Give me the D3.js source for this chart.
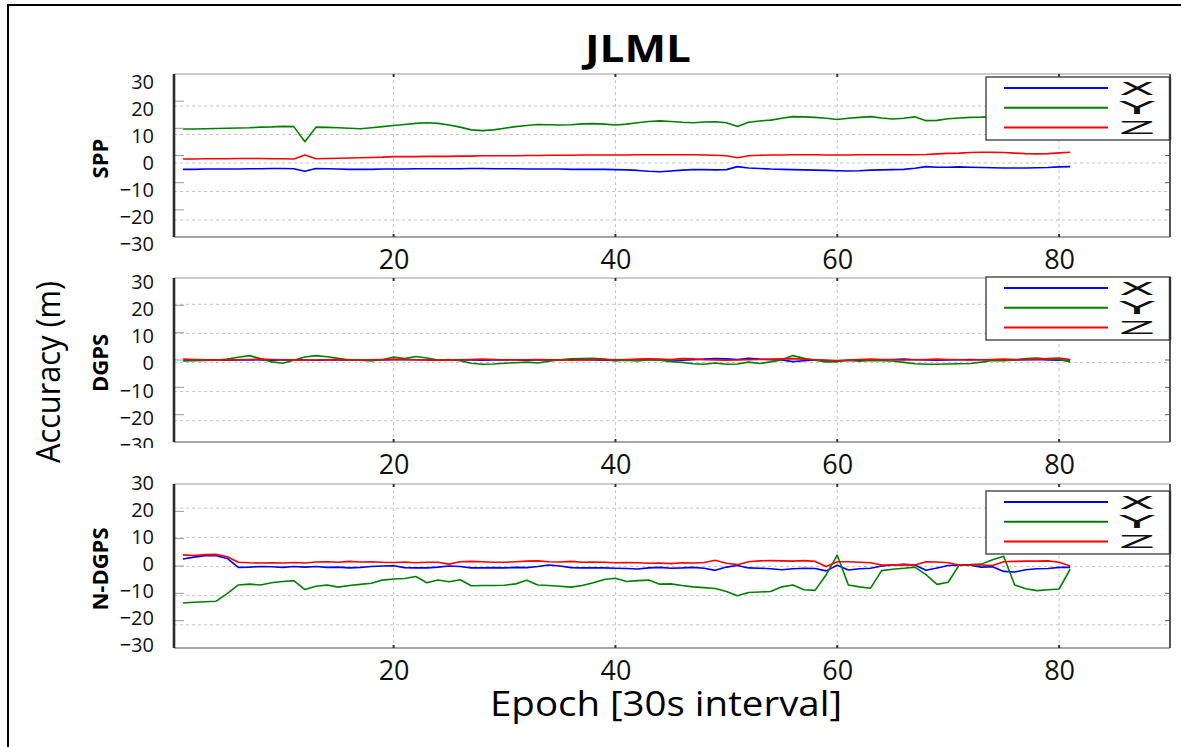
<!DOCTYPE html>
<html>
<head>
<meta charset="utf-8">
<script src="https://cdn.jsdelivr.net/npm/d3@7"></script>
<style>
  body { margin: 0; background: #fff; }
  text { font-family: "Open Sans", "DejaVu Sans", sans-serif; }
</style>
</head>
<body>
<div id="chart"></div>
<script>
// epochs 1..81 (30 s interval)
const epochs = d3.range(1, 82);
const seriesNames = ["X", "Y", "Z"];
const seriesColors = ["#0000ff", "#008000", "#ff0000"];
const yTicks = [-30, -20, -10, 0, 10, 20, 30];
const gridTicks = [-20, -10, 0, 10, 20];
const xTicks = [20, 40, 60, 80];

// SPP
const sppX = [-2.4,-2.4,-2.3,-2.3,-2.3,-2.3,-2.2,-2.2,-2.1,-2.1,-2.2,-3.1,-2.1,-2.2,-2.3,-2.4,-2.4,-2.4,-2.3,-2.3,
  -2.3,-2.2,-2.2,-2.2,-2.2,-2.2,-2.1,-2.1,-2.2,-2.2,-2.2,-2.3,-2.3,-2.3,-2.3,-2.4,-2.4,-2.4,-2.4,-2.5,
  -2.6,-2.8,-3.1,-3.3,-3.0,-2.7,-2.5,-2.5,-2.6,-2.5,-1.4,-1.9,-2.1,-2.3,-2.4,-2.5,-2.6,-2.7,-2.8,-2.9,
  -3.0,-2.9,-2.7,-2.6,-2.5,-2.4,-2.0,-1.4,-1.6,-1.6,-1.5,-1.6,-1.7,-1.8,-1.9,-1.9,-1.9,-1.8,-1.7,-1.5,-1.4];
const sppY = [12.5,12.5,12.6,12.7,12.8,12.9,13.0,13.2,13.3,13.5,13.4,7.8,13.2,13.1,13.0,12.8,12.6,13.0,13.4,13.8,
  14.2,14.6,14.8,14.6,14.0,13.2,12.2,11.9,12.2,12.8,13.4,13.8,14.2,14.1,14.0,14.1,14.4,14.5,14.3,14.0,
  14.3,14.8,15.3,15.5,15.3,15.0,14.8,15.1,15.2,14.8,13.4,15.0,15.5,15.8,16.5,17.1,17.0,16.8,16.5,16.0,
  16.5,16.8,17.1,16.6,16.2,16.5,17.0,15.6,15.7,16.3,16.6,16.8,16.9,17.1,17.3,17.5,17.6,17.8,18.0,18.1,18.3];
const sppZ = [1.4,1.4,1.5,1.5,1.5,1.6,1.6,1.6,1.5,1.5,1.4,2.9,1.5,1.6,1.7,1.8,1.9,2.0,2.1,2.3,
  2.3,2.3,2.4,2.4,2.4,2.5,2.5,2.6,2.6,2.6,2.6,2.7,2.7,2.8,2.8,2.8,2.9,2.9,2.9,2.9,
  2.9,3.0,3.0,3.0,3.0,3.0,3.0,2.9,2.8,2.6,1.9,2.6,2.8,2.9,2.9,3.0,3.0,3.0,2.9,2.9,
  2.9,3.0,3.0,3.0,3.0,3.0,3.0,3.1,3.3,3.5,3.6,3.8,3.9,3.9,3.8,3.6,3.4,3.3,3.4,3.7,3.9];

// DGPS
const dgpsX = [1.2,1.3,1.4,1.3,1.2,1.3,1.4,1.3,1.2,1.3,1.4,1.3,1.2,1.3,1.4,1.3,1.2,1.1,1.3,1.4,
  1.5,1.4,1.3,1.2,1.3,1.4,1.3,1.2,1.3,1.4,1.3,1.2,1.3,1.4,1.3,1.5,1.4,1.3,1.2,1.1,
  1.3,1.4,1.5,1.4,1.3,1.2,1.4,1.6,1.8,1.7,1.5,1.9,1.6,1.4,1.3,0.7,1.0,1.3,1.2,1.0,
  1.1,1.2,1.3,1.4,1.5,1.6,1.4,1.3,1.2,1.3,1.4,1.5,1.4,1.3,1.2,1.3,1.4,1.5,1.3,1.2,1.3];
const dgpsY = [0.9,1.0,1.1,1.3,1.6,2.3,2.9,1.8,0.6,0.1,1.2,2.4,2.9,2.5,1.9,1.3,1.2,1.0,1.4,2.4,
  1.8,2.6,2.0,1.3,1.5,1.0,0.1,-0.3,-0.2,0.1,0.3,0.5,0.2,0.8,1.4,1.7,1.8,1.9,1.6,1.0,
  1.2,0.9,1.4,1.2,0.7,0.4,-0.1,-0.3,0.2,-0.3,-0.2,0.5,0.0,0.6,1.4,2.9,1.9,1.2,0.6,0.7,
  1.2,0.8,1.1,1.0,0.9,0.4,-0.1,-0.3,-0.3,-0.2,-0.1,0.0,0.5,1.1,1.0,1.3,1.8,2.0,1.6,1.5,0.6];
const dgpsZ = [1.6,1.5,1.4,1.3,1.3,1.4,1.5,1.6,1.5,1.4,1.3,1.2,1.3,1.4,1.5,1.4,1.3,1.4,1.5,1.6,
  1.5,1.4,1.3,1.2,1.3,1.4,1.5,1.6,1.5,1.4,1.3,1.4,1.5,1.4,1.3,1.2,1.3,1.4,1.5,1.4,
  1.5,1.6,1.7,1.6,1.5,1.8,1.7,1.4,1.3,1.2,1.3,1.4,1.5,1.6,1.7,1.8,1.6,1.4,1.2,1.1,
  1.3,1.5,1.6,1.5,1.4,1.3,1.4,1.5,1.6,1.5,1.4,1.3,1.4,1.5,1.6,1.5,1.4,1.6,1.8,2.0,1.5];

// N-DGPS
const ndgpsX = [1.8,2.5,3.0,3.0,2.0,-1.3,-1.2,-1.0,-1.1,-1.3,-1.0,-1.2,-1.0,-1.3,-1.2,-1.5,-1.3,-1.0,-0.8,-0.7,
  -1.4,-1.5,-1.5,-1.2,-0.8,-1.0,-1.5,-1.5,-1.4,-1.5,-1.3,-1.4,-1.0,-0.4,-0.8,-1.4,-1.5,-1.5,-1.5,-1.6,
  -1.7,-1.9,-1.5,-1.3,-1.6,-1.5,-1.3,-1.6,-2.4,-1.2,-0.6,-1.5,-1.6,-1.8,-2.2,-1.8,-1.6,-1.7,-2.6,-0.5,
  -2.3,-1.8,-1.6,-0.8,-0.4,-0.2,-0.4,-2.4,-1.5,-0.6,-0.4,-0.5,-1.2,-1.1,-2.8,-3.0,-2.2,-1.8,-1.7,-1.3,-1.3];
const ndgpsY = [-14.5,-14.2,-14.0,-13.8,-11.0,-7.8,-7.5,-7.8,-7.0,-6.5,-6.2,-9.5,-8.3,-7.8,-8.6,-8.0,-7.6,-7.2,-6.0,-5.6,
  -5.4,-4.7,-7.0,-6.0,-6.6,-5.9,-8.1,-8.0,-8.0,-7.9,-7.4,-6.1,-7.8,-8.0,-8.3,-8.6,-8.0,-7.0,-5.8,-5.3,
  -6.5,-6.2,-6.0,-7.5,-7.4,-8.0,-8.5,-8.8,-9.1,-10.2,-11.8,-10.6,-10.4,-10.2,-8.5,-7.8,-9.6,-9.8,-4.0,3.2,
  -7.8,-8.5,-9.0,-2.5,-2.0,-1.6,-1.2,-4.0,-7.6,-6.8,-0.4,-0.3,-0.1,1.5,2.8,-7.8,-9.2,-9.9,-9.6,-9.3,-2.0];
const ndgpsZ = [3.3,3.1,3.4,3.5,2.6,0.6,0.4,0.3,0.4,0.3,0.5,0.3,0.7,0.8,0.6,0.9,0.7,0.8,0.6,0.5,
  0.7,0.4,0.6,0.6,-0.1,0.8,0.9,0.8,0.6,0.6,0.8,1.0,1.1,0.8,0.7,0.9,0.6,0.7,0.6,0.4,
  0.5,0.4,0.2,0.3,0.1,0.4,0.3,0.5,1.3,0.2,-0.3,0.8,1.1,1.2,1.1,1.0,1.2,0.9,-1.0,0.8,
  0.8,0.6,0.4,-0.4,-0.4,-0.3,-0.4,0.8,0.7,0.4,-0.4,-0.4,-0.4,-0.6,0.8,0.9,1.0,1.0,1.1,0.6,-0.8];

const W = 1181, H = 747;
const boxLeft = 174, boxRight = 1170;

// layout of the three stacked panels
const panels = [
  { name: "SPP", series: [sppX, sppY, sppZ], boxTop: 74, boxBottom: 237,
    labelRange: [244, 81.7], gridRange: [248.5, 77.5], legendTop: 77, labelClip: null },
  { name: "DGPS", series: [dgpsX, dgpsY, dgpsZ], boxTop: 278, boxBottom: 442,
    labelRange: [445, 282], gridRange: [449.8, 275.2], legendTop: 277, labelClip: 448 },
  { name: "N-DGPS", series: [ndgpsX, ndgpsY, ndgpsZ], boxTop: 484, boxBottom: 648,
    labelRange: [645, 482.7], gridRange: [654, 479], legendTop: 491, labelClip: null }
];

const svg = d3.select("#chart").append("svg")
  .attr("width", W).attr("height", H)
  .style("display", "block");

svg.append("rect").attr("width", W).attr("height", H).attr("fill", "#fff");

// outer frame (top + left only, as cropped)
svg.append("line").attr("x1", 7).attr("x2", W).attr("y1", 5).attr("y2", 5)
  .attr("stroke", "#000").attr("stroke-width", 2);
svg.append("line").attr("x1", 8).attr("x2", 8).attr("y1", 5).attr("y2", H)
  .attr("stroke", "#000").attr("stroke-width", 2);

const xScale = d3.scaleLinear().domain([0.2, 90]).range([boxLeft, boxRight]);

function drawPanel(p, idx) {
  const g = svg.append("g");
  const y = d3.scaleLinear().domain([-30, 30]).range(p.labelRange);
  const yGrid = d3.scaleLinear().domain([-30, 30]).range(p.gridRange);
  const yBox = d3.scaleLinear().domain([-30, 30]).range([p.boxBottom, p.boxTop]);

  // grid
  g.selectAll(".hgrid").data(gridTicks).join("line")
    .attr("x1", boxLeft).attr("x2", boxRight)
    .attr("y1", d => yGrid(d)).attr("y2", d => yGrid(d))
    .attr("stroke", "#c4c4c4").attr("stroke-width", 1)
    .attr("stroke-dasharray", "3,3");
  g.selectAll(".vgrid").data(xTicks).join("line")
    .attr("x1", d => xScale(d)).attr("x2", d => xScale(d))
    .attr("y1", p.boxTop).attr("y2", p.boxBottom)
    .attr("stroke", "#c4c4c4").attr("stroke-width", 1)
    .attr("stroke-dasharray", "3,3");

  // data
  const clipId = "clip" + idx;
  svg.append("clipPath").attr("id", clipId).append("rect")
    .attr("x", boxLeft).attr("y", p.boxTop)
    .attr("width", boxRight - boxLeft).attr("height", p.boxBottom - p.boxTop);

  const line = d3.line()
    .x((d, i) => xScale(epochs[i]))
    .y(d => y(d));

  g.append("g").attr("clip-path", "url(#" + clipId + ")")
    .selectAll("path").data(p.series).join("path")
    .attr("fill", "none")
    .attr("stroke", (d, i) => seriesColors[i])
    .attr("stroke-width", 1.6)
    .attr("stroke-linejoin", "round")
    .attr("d", line);

  // box
  g.append("line").attr("x1", boxLeft).attr("x2", boxRight)
    .attr("y1", p.boxTop).attr("y2", p.boxTop)
    .attr("stroke", "#9a9a9a").attr("stroke-width", 1.2);
  g.append("line").attr("x1", boxLeft).attr("x2", boxRight)
    .attr("y1", p.boxBottom).attr("y2", p.boxBottom)
    .attr("stroke", "#8a8a8a").attr("stroke-width", 1.4);
  g.append("line").attr("x1", boxRight).attr("x2", boxRight)
    .attr("y1", p.boxTop).attr("y2", p.boxBottom)
    .attr("stroke", "#555").attr("stroke-width", 2);

  // ticks
  g.selectAll(".lt").data(gridTicks).join("line")
    .attr("x1", boxLeft).attr("x2", boxLeft + 10)
    .attr("y1", d => yBox(d)).attr("y2", d => yBox(d))
    .attr("stroke", "#999").attr("stroke-width", 1);
  g.selectAll(".rt").data(gridTicks).join("line")
    .attr("x1", boxRight - 5).attr("x2", boxRight)
    .attr("y1", d => yBox(d)).attr("y2", d => yBox(d))
    .attr("stroke", "#555").attr("stroke-width", 1);
  g.selectAll(".tt").data(xTicks).join("line")
    .attr("x1", d => xScale(d)).attr("x2", d => xScale(d))
    .attr("y1", p.boxTop).attr("y2", p.boxTop + 3)
    .attr("stroke", "#333").attr("stroke-width", 2);
  g.selectAll(".bt").data(xTicks).join("line")
    .attr("x1", d => xScale(d)).attr("x2", d => xScale(d))
    .attr("y1", p.boxBottom - 3).attr("y2", p.boxBottom)
    .attr("stroke", "#333").attr("stroke-width", 2);

  g.append("line").attr("x1", boxLeft).attr("x2", boxLeft)
    .attr("y1", p.boxTop).attr("y2", p.boxBottom)
    .attr("stroke", "#2a2a2a").attr("stroke-width", 2.6);

  // y tick labels
  const yAxisG = g.append("g")
    .attr("transform", "translate(154,0)")
    .call(d3.axisLeft(y).tickValues(yTicks).tickSize(0).tickPadding(0));
  yAxisG.select(".domain").remove();
  yAxisG.selectAll("text")
    .style("font-family", "'Open Sans', sans-serif")
    .style("font-size", "20px").attr("fill", "#111");
  if (p.labelClip) {
    const lc = "lclip" + idx;
    svg.append("clipPath").attr("id", lc).append("rect")
      .attr("x", -60).attr("y", 0).attr("width", 80).attr("height", p.labelClip);
    yAxisG.attr("clip-path", "url(#" + lc + ")");
  }

  // x tick labels
  const xAxisG = g.append("g")
    .attr("transform", "translate(0," + (p.boxBottom + 13) + ")")
    .call(d3.axisBottom(xScale).tickValues(xTicks).tickSize(0).tickPadding(0));
  xAxisG.select(".domain").remove();
  xAxisG.selectAll("text")
    .style("font-family", "'Open Sans', sans-serif")
    .style("font-size", "27px").attr("fill", "#111");

  // panel label
  g.append("text")
    .attr("transform", "translate(108," + ((p.boxTop + p.boxBottom) / 2 + 3) + ") rotate(-90)")
    .attr("text-anchor", "middle")
    .style("font-size", "22px").style("font-weight", "bold")
    .text(p.name);

  // legend
  const lg = g.append("g").attr("transform", "translate(986," + p.legendTop + ")");
  lg.append("rect").attr("width", 184).attr("height", 63)
    .attr("fill", "#fff").attr("stroke", "#444").attr("stroke-width", 1.4);
  lg.append("line").attr("x1", 184).attr("x2", 184).attr("y1", 0).attr("y2", 63)
    .attr("stroke", "#333").attr("stroke-width", 2.4);
  const rowY = d3.scalePoint().domain(seriesNames).range([11, 50.5]);
  const rows = lg.selectAll(".row").data(seriesNames).join("g")
    .attr("transform", d => "translate(0," + rowY(d) + ")");
  rows.append("line").attr("x1", 18).attr("x2", 122)
    .attr("stroke", (d, i) => seriesColors[i]).attr("stroke-width", 1.8);
  rows.append("text").attr("x", 133).attr("y", 6.5)
    .attr("textLength", 36).attr("lengthAdjust", "spacingAndGlyphs")
    .style("font-family", "'DejaVu Sans', sans-serif")
    .style("font-size", "17px")
    .attr("fill", "#111")
    .text(d => d);
}

panels.forEach(drawPanel);

// title and axis titles
svg.append("text").attr("x", 638).attr("y", 62)
  .attr("text-anchor", "middle")
  .attr("textLength", 106).attr("lengthAdjust", "spacingAndGlyphs")
  .style("font-size", "38px").style("font-weight", "bold")
  .text("JLML");

svg.append("text")
  .attr("transform", "translate(60,372) rotate(-90)")
  .attr("text-anchor", "middle")
  .attr("textLength", 182).attr("lengthAdjust", "spacingAndGlyphs")
  .style("font-size", "33px")
  .text("Accuracy (m)");

svg.append("text").attr("x", 666).attr("y", 716)
  .attr("text-anchor", "middle")
  .attr("textLength", 352).attr("lengthAdjust", "spacingAndGlyphs")
  .style("font-size", "34px")
  .text("Epoch [30s interval]");
</script>
</body>
</html>
